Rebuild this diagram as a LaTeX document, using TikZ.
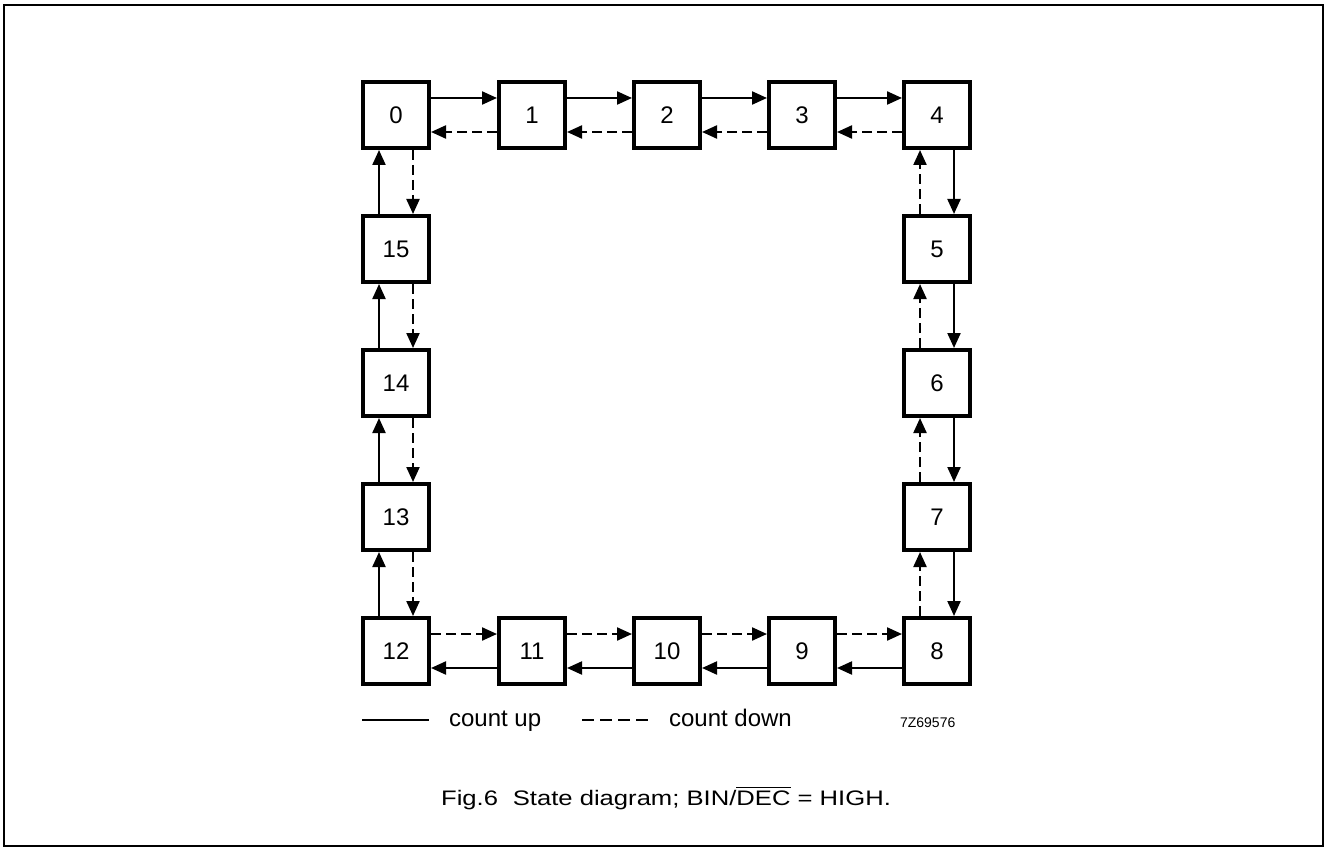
\documentclass[tikz,border=0pt]{standalone}
\usepackage{fontspec}
\setmainfont{Liberation Sans}
\usepackage{graphicx}
\usetikzlibrary{arrows.meta}

\tikzset{
  state/.style={draw,line width=2pt,minimum size=33pt,inner sep=0pt,font=\fontsize{12}{14}\selectfont},
  up/.style={->,line width=1.1pt},
  down/.style={->,line width=1.1pt,dash pattern=on 5pt off 2.5pt},
}

\begin{document}
\begin{tikzpicture}[x=0.5pt,y=-0.5pt,>={Triangle[length=7.5pt,width=6.5pt]}]
\useasboundingbox (0,0) rectangle (1326,850);
\draw[line width=1pt] (4,5) rectangle (1323,846);
% states
\node[state] (s0) at (396,115) {0};
\node[state] (s1) at (532,115) {1};
\node[state] (s2) at (667,115) {2};
\node[state] (s3) at (802,115) {3};
\node[state] (s4) at (937,115) {4};
\node[state] (s5) at (937,249) {5};
\node[state] (s6) at (937,383) {6};
\node[state] (s7) at (937,517) {7};
\node[state] (s8) at (937,651) {8};
\node[state] (s9) at (802,651) {9};
\node[state] (s10) at (667,651) {10};
\node[state] (s11) at (532,651) {11};
\node[state] (s12) at (396,651) {12};
\node[state] (s13) at (396,517) {13};
\node[state] (s14) at (396,383) {14};
\node[state] (s15) at (396,249) {15};
% top row
\foreach \a/\b in {0/1,1/2,2/3,3/4}{
  \draw[up] ([yshift=8.5pt]s\a.east) -- ([yshift=8.5pt]s\b.west);
  \draw[down] ([yshift=-8.5pt]s\b.west) -- ([yshift=-8.5pt]s\a.east);
}
% right column
\foreach \a/\b in {4/5,5/6,6/7,7/8}{
  \draw[up] ([xshift=8.5pt]s\a.south) -- ([xshift=8.5pt]s\b.north);
  \draw[down] ([xshift=-8.5pt]s\b.north) -- ([xshift=-8.5pt]s\a.south);
}
% bottom row
\foreach \a/\b in {8/9,9/10,10/11,11/12}{
  \draw[up] ([yshift=-8.5pt]s\a.west) -- ([yshift=-8.5pt]s\b.east);
  \draw[down] ([yshift=8.5pt]s\b.east) -- ([yshift=8.5pt]s\a.west);
}
% left column
\foreach \a/\b in {12/13,13/14,14/15,15/0}{
  \draw[up] ([xshift=-8.5pt]s\a.north) -- ([xshift=-8.5pt]s\b.south);
  \draw[down] ([xshift=8.5pt]s\b.south) -- ([xshift=8.5pt]s\a.north);
}
% key
\draw[line width=1.2pt] (362,720) -- (429,720);
\node[anchor=base west,font=\fontsize{12}{14}\selectfont] (upkey) at (442,726) {count up};
\draw[line width=1.2pt,dash pattern=on 6pt off 3pt] (582,720) -- (648,720);
\node[anchor=base west,font=\fontsize{12}{14}\selectfont] (downkey) at (662,726) {count down};
\node[anchor=base west,font=\fontsize{7}{8}\selectfont] (figno) at (893,727) {7Z69576};
\node[anchor=base,font=\fontsize{10.5}{12}\selectfont] (caption) at (666,805)
  {\scalebox{1.22}[1]{Fig.6\hspace{0.3em} State diagram; BIN/$\overline{\mbox{DEC}}$ = HIGH.}};
\end{tikzpicture}
\end{document}
